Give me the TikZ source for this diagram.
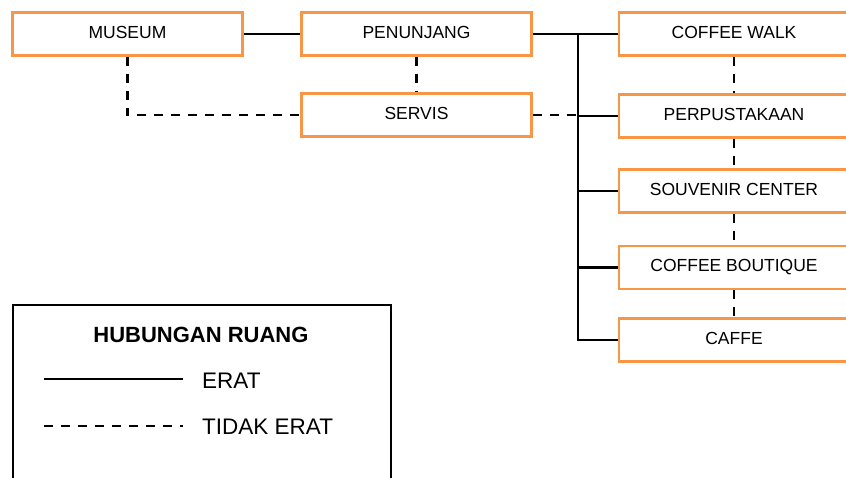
\documentclass[tikz,border=0pt]{standalone}
\usepackage{fontspec}
\setmainfont{Liberation Sans}
\definecolor{boxorange}{HTML}{F79646}
\begin{document}
\begin{tikzpicture}[x=1pt,y=-1pt,
  room/.style={draw=boxorange, line width=2.3pt, fill=white, minimum width=230pt, minimum height=43pt,
    inner sep=0pt, font=\fontsize{17.5}{20}\selectfont, text height=12.6pt, text depth=4.6pt},
  conn/.style={line width=2.3pt, black},
  loose/.style={line width=2.3pt, black, dash pattern=on 9pt off 8pt},
  legendtext/.style={font=\fontsize{22.5}{24}\selectfont, anchor=west, inner sep=0pt}
]
\useasboundingbox (0,0) rectangle (846,477);
\clip (0,0) rectangle (846,477);
\fill[white] (0,0) rectangle (846,477);

% rooms
\node[room] (MUS) at (127.5,34) {MUSEUM};
\node[room] (PEN) at (416.5,34) {PENUNJANG};
\node[room] (SER) at (416.5,115) {SERVIS};
\node[room] (CW) at (734,34) {COFFEE WALK};
\node[room] (PER) at (734,116) {PERPUSTAKAAN};
\node[room] (SOU) at (734,191) {SOUVENIR CENTER};
\node[room] (BOU) at (734,267.5) {COFFEE BOUTIQUE};
\node[room] (CAF) at (734,340) {CAFFE};

\coordinate (bus) at (578,34);

% close relations
\draw[conn] (MUS.east) -- (PEN.west);
\draw[conn] (PEN.east) -- (CW.west);
\draw[conn] (bus) |- (CAF.west);
\draw[conn] (bus |- PER.west) -- (PER.west);
\draw[conn] (bus |- SOU.west) -- (SOU.west);
\draw[conn] (bus |- BOU.west) -- (BOU.west);

% loose relations
\draw[loose] (MUS.south) |- (SER.west);
\draw[loose] (PEN.south) -- (SER.north);
\draw[loose] (SER.east) -- (bus |- SER.east);
\draw[loose] (CW.south) -- (PER.north);
\draw[loose] (PER.south) -- (SOU.north);
\draw[loose] (SOU.south) -- (BOU.north);
\draw[loose] (BOU.south) -- (CAF.north);

% legend
\node[draw=black, line width=2.3pt, minimum width=378pt, minimum height=190pt, inner sep=0pt, anchor=north west] (legend) at (12,304) {};
\node[font=\bfseries\fontsize{22}{24}\selectfont, inner sep=0pt] (ltitle) at (201,335) {HUBUNGAN RUANG};
\coordinate (s1) at (44,379);
\coordinate (s2) at (183,379);
\coordinate (d1) at (44,426);
\coordinate (d2) at (183,426);
\draw[conn] (s1) -- (s2);
\draw[conn, dash pattern=on 9pt off 8pt] (d1) -- (d2);
\node[legendtext] (lerat) at (202,381) {ERAT};
\node[legendtext] (ltidak) at (202,427) {TIDAK ERAT};
\end{tikzpicture}
\end{document}
